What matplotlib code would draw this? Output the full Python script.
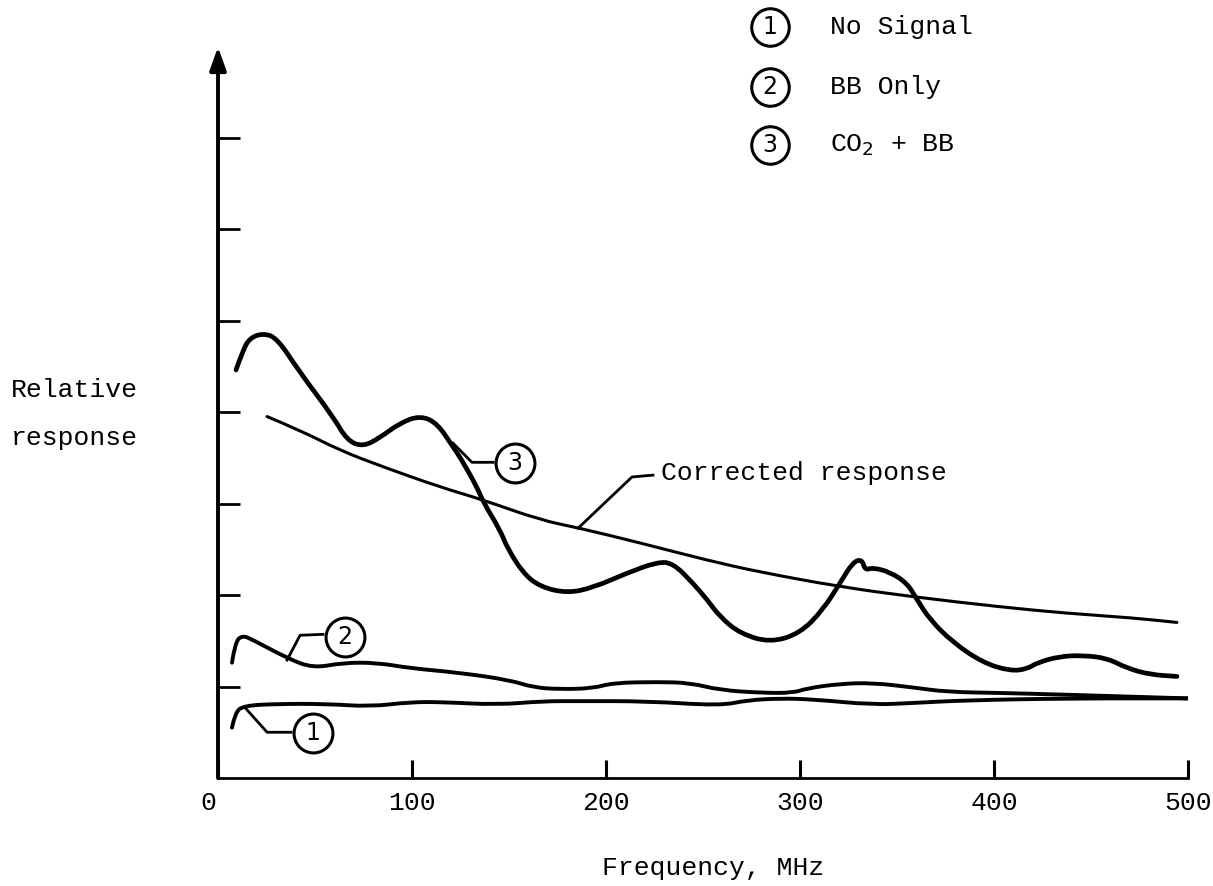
import matplotlib.pyplot as plt
import matplotlib.transforms as mtransforms
from matplotlib.path import Path
from matplotlib.patches import PathPatch

plt.rcParams['font.family'] = ['Liberation Mono', 'DejaVu Sans Mono']

# values (x in MHz, y in relative units, 1 unit = one y tick)
co2_x = [9.3, 12.9, 16.5, 23.2, 30.4, 42.3, 59.3, 66.5, 74.7, 83.5, 93.8, 104.1,
         112.9, 121.1, 124.7, 133.5, 136.6, 145.4, 149.0, 157.2, 166.0, 179.9,
         193.3, 210.8, 226.3, 234.5, 244.8, 252.1, 258.8, 269.1, 284.5, 300.0,
         311.9, 320.6, 327.3, 332.0, 333.5, 337.6, 346.4, 355.2, 360.3, 367.0,
         378.9, 394.3, 408.2, 417.0, 422.2, 434.0, 445.9, 458.2, 468.6, 480.4, 494.3]
co2_y = [4.46, 4.68, 4.81, 4.86, 4.81, 4.43, 3.95, 3.69, 3.62, 3.72, 3.88, 3.96,
         3.88, 3.62, 3.51, 3.18, 3.02, 2.71, 2.52, 2.24, 2.09, 2.02,
         2.08, 2.24, 2.36, 2.35, 2.13, 1.95, 1.76, 1.58, 1.48, 1.58,
         1.84, 2.13, 2.36, 2.39, 2.27, 2.30, 2.25, 2.13, 1.95, 1.73,
         1.48, 1.26, 1.17, 1.19, 1.26, 1.33, 1.34, 1.31, 1.20, 1.13, 1.11]

corr_x = [25.3, 42.3, 62.9, 85.1, 114.4, 136.6, 166.0, 186.6, 217.5, 252.1,
          279.4, 320.6, 358.2, 403.1, 437.6, 471.6, 494.3]
corr_y = [3.95, 3.80, 3.58, 3.40, 3.18, 3.04, 2.82, 2.73, 2.57, 2.38,
          2.25, 2.09, 1.98, 1.87, 1.80, 1.75, 1.70]

bb_x = [7.2, 8.8, 12.4, 18.0, 35.6, 49.0, 64.4, 82.0, 99.0, 124.7, 150.5, 162.4,
        176.3, 193.3, 203.6, 226.3, 243.3, 258.8, 280.9, 296.4, 303.6, 320.6,
        337.6, 358.2, 375.8, 403.1, 437.6, 500.0]
bb_y = [1.26, 1.48, 1.56, 1.51, 1.31, 1.20, 1.26, 1.26, 1.20, 1.15, 1.07, 0.99,
        0.97, 0.98, 1.04, 1.05, 1.04, 0.96, 0.93, 0.93, 0.98, 1.03,
        1.04, 0.99, 0.94, 0.93, 0.91, 0.87]

nosig_x = [7.2, 8.8, 12.9, 30.4, 56.2, 78.4, 99.0, 116.0, 143.8, 167.5, 186.6,
           221.1, 258.8, 272.7, 289.7, 306.7, 337.6, 358.2, 386.1, 437.6, 500.0]
nosig_y = [0.55, 0.71, 0.79, 0.81, 0.81, 0.78, 0.83, 0.83, 0.80, 0.84, 0.84,
           0.84, 0.79, 0.85, 0.87, 0.86, 0.80, 0.82, 0.85, 0.87, 0.87]

x_ticks = [0, 100, 200, 300, 400, 500]
y_ticks = [1, 2, 3, 4, 5, 6, 7]
legend_labels = ['No Signal', 'BB Only', r'CO$_2$ + BB']

fig = plt.figure(figsize=(12.13, 8.86), dpi=100)
ax = fig.add_axes([218 / 1213, 108 / 886, 970 / 1213, 732 / 886])
ax.set_xlim(0, 500)
ax.set_ylim(0, 8)


def smooth_line(xs, ys, lw):
    # quadratic bezier through the midpoints, the read points act as controls
    verts = [(xs[0], ys[0])]
    codes = [Path.MOVETO]
    for i in range(1, len(xs) - 1):
        verts += [(xs[i], ys[i]), ((xs[i] + xs[i + 1]) / 2, (ys[i] + ys[i + 1]) / 2)]
        codes += [Path.CURVE3, Path.CURVE3]
    verts.append((xs[-1], ys[-1]))
    codes.append(Path.LINETO)
    ax.add_patch(PathPatch(Path(verts, codes), fill=False, edgecolor='black',
                           lw=lw, capstyle='round', joinstyle='round'))


smooth_line(co2_x, co2_y, 3.4)
smooth_line(corr_x, corr_y, 2.2)
smooth_line(bb_x, bb_y, 2.8)
smooth_line(nosig_x, nosig_y, 2.8)

# axes
for s in ['top', 'right', 'left']:
    ax.spines[s].set_visible(False)
ax.spines['bottom'].set_linewidth(2.0)
ax.annotate('', xy=(0, 7.99), xytext=(0, 0), xycoords='data',
            arrowprops=dict(arrowstyle='-|>,head_width=0.5,head_length=1.4',
                            color='black', lw=2.8, shrinkA=0, shrinkB=0),
            annotation_clip=False)
ax.set_xticks(x_ticks)
ax.set_xticklabels([str(v) for v in x_ticks])
ax.set_yticks(y_ticks)
ax.set_yticklabels([])
ax.tick_params(axis='x', direction='in', length=13, width=2.2, pad=9, labelsize=19)
ax.tick_params(axis='y', direction='in', length=16, width=2.0)
off = mtransforms.ScaledTranslation(-10 / 100, 0, fig.dpi_scale_trans)
lab0 = ax.get_xticklabels()[0]
lab0.set_transform(lab0.get_transform() + off)


# callouts
def callout(pts, num):
    xs = [p[0] for p in pts[:-1]]
    ys = [p[1] for p in pts[:-1]]
    ax.plot(xs, ys, color='black', lw=2.0, clip_on=False)
    cx, cy = pts[-1]
    ax.plot(cx, cy, 'o', ms=28, mfc='white', mec='black', mew=2.2, clip_on=False)
    ax.text(cx, cy, num, ha='center', va='center', fontsize=17,
            family='DejaVu Sans', clip_on=False)


callout([(13.9, 0.77), (25.3, 0.50), (37.6, 0.50), (49.0, 0.49)], '1')
callout([(35.6, 1.29), (42.3, 1.56), (54.1, 1.57), (65.5, 1.54)], '2')
callout([(121.1, 3.66), (130.9, 3.45), (141.8, 3.45), (153.1, 3.44)], '3')

ax.plot([185.6, 213.4, 224.2], [2.73, 3.29, 3.31], color='black', lw=2.0)
ax.text(228.5, 3.33, 'Corrected response', ha='left', va='center', fontsize=19)

# legend
leg_y = [8.21, 7.55, 6.92]
for i, (yy, lab) in enumerate(zip(leg_y, legend_labels)):
    ax.plot(284.5, yy, 'o', ms=27, mfc='white', mec='black', mew=2.2, clip_on=False)
    ax.text(284.5, yy, str(i + 1), ha='center', va='center', fontsize=17,
            family='DejaVu Sans', clip_on=False)
    ax.text(315.5, yy, lab, ha='left', va='center', fontsize=19, clip_on=False)

fig.text(74 / 1213, 1 - 390 / 886, 'Relative', ha='center', va='center', fontsize=19)
fig.text(74 / 1213, 1 - 438 / 886, 'response', ha='center', va='center', fontsize=19)
fig.text(713 / 1213, 1 - 868 / 886, 'Frequency, MHz', ha='center', va='center', fontsize=19)

fig.savefig('out.png', dpi=100)
